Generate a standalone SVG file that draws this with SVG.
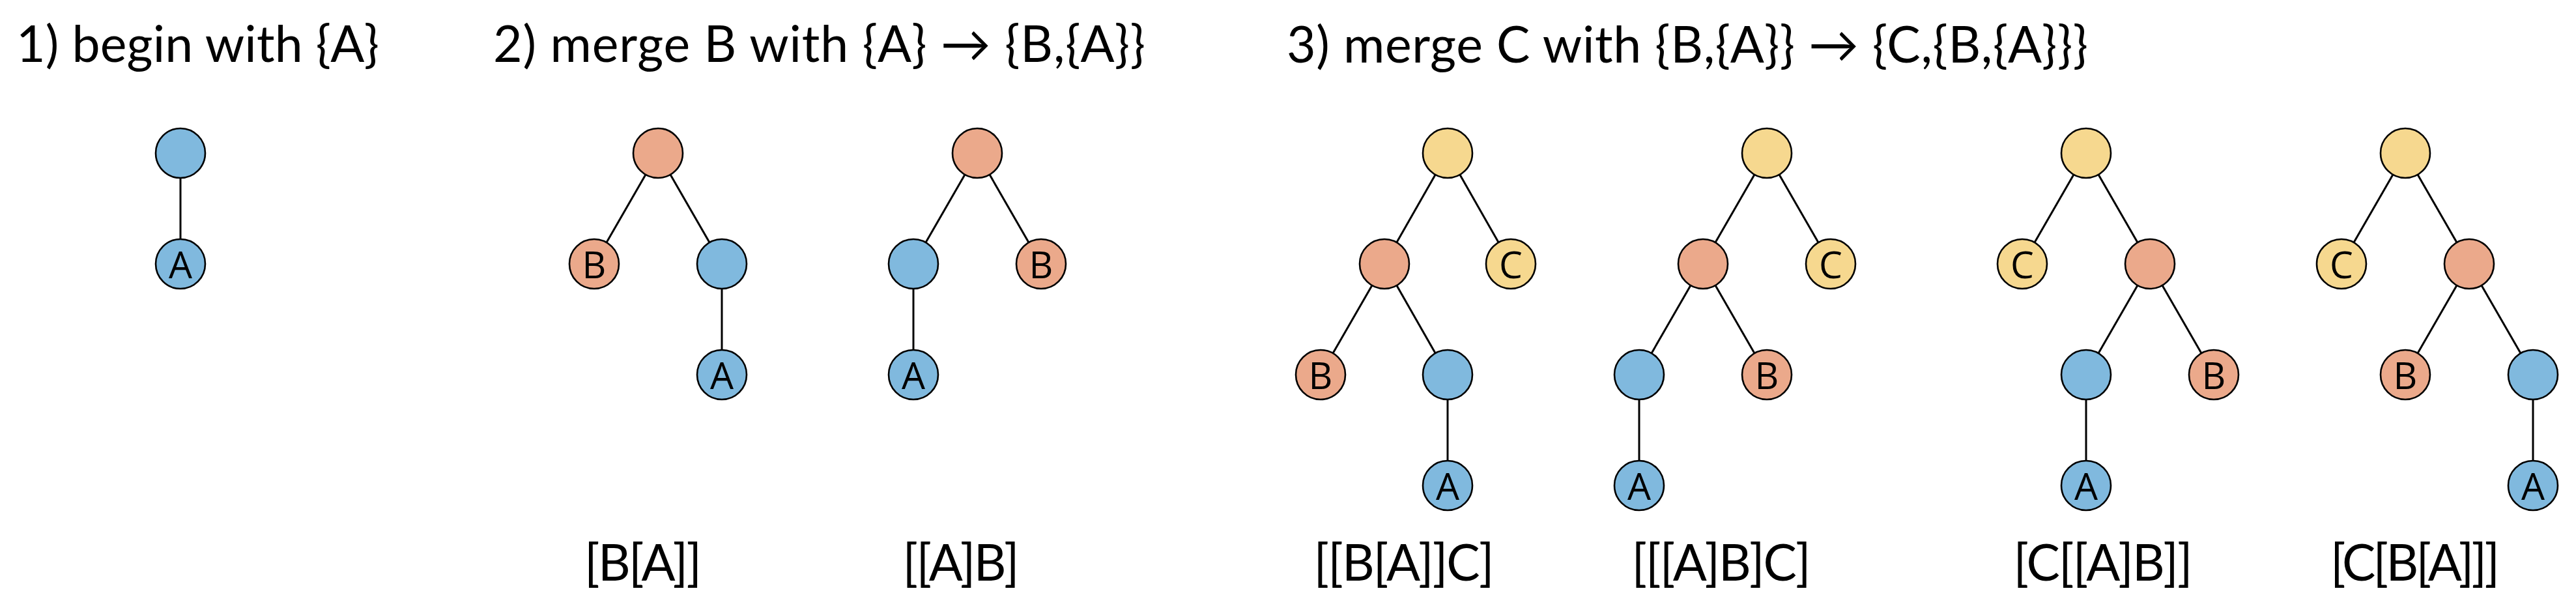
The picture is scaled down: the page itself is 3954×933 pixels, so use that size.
<svg xmlns="http://www.w3.org/2000/svg" width="3954" height="933" viewBox="0 0 3954 933">
<style>
.t{font-family:Lato,"Liberation Sans",sans-serif;font-size:77px;fill:#000}
.e line{stroke:#000;stroke-width:3}
circle{stroke:#000;stroke-width:2.6}
.b{fill:#80b9de}.s{fill:#eba98b}.y{fill:#f6d88f}
.n{font-family:"Open Sans","DejaVu Sans",sans-serif;font-size:57px;text-anchor:middle;fill:#000}
</style>
<rect width="3954" height="933" fill="#fff"/>
<g id="titles">
<text class="t" x="25" y="95" textLength="557">1) begin with {A}</text>
<text class="t" x="757" y="95" textLength="1001">2) merge B with {A} → {B,{A}}</text>
<text class="t" x="1975" y="96" textLength="1230">3) merge C with {B,{A}} → {C,{B,{A}}}</text>
</g>
<g id="connectors" class="e">
<line x1="277" y1="235" x2="277" y2="405"/>
<line x1="1010" y1="235" x2="912" y2="405"/>
<line x1="1010" y1="235" x2="1108" y2="405"/>
<line x1="1108" y1="405" x2="1108" y2="575"/>
<line x1="1500" y1="235" x2="1402" y2="405"/>
<line x1="1500" y1="235" x2="1598" y2="405"/>
<line x1="1402" y1="405" x2="1402" y2="575"/>
<line x1="2222" y1="235" x2="2125" y2="405"/>
<line x1="2222" y1="235" x2="2319" y2="405"/>
<line x1="2125" y1="405" x2="2027" y2="575"/>
<line x1="2125" y1="405" x2="2222" y2="575"/>
<line x1="2222" y1="575" x2="2222" y2="745"/>
<line x1="2712" y1="235" x2="2614" y2="405"/>
<line x1="2712" y1="235" x2="2810" y2="405"/>
<line x1="2614" y1="405" x2="2516" y2="575"/>
<line x1="2614" y1="405" x2="2712" y2="575"/>
<line x1="2516" y1="575" x2="2516" y2="745"/>
<line x1="3202" y1="235" x2="3104" y2="405"/>
<line x1="3202" y1="235" x2="3300" y2="405"/>
<line x1="3300" y1="405" x2="3202" y2="575"/>
<line x1="3300" y1="405" x2="3398" y2="575"/>
<line x1="3202" y1="575" x2="3202" y2="745"/>
<line x1="3692" y1="235" x2="3594" y2="405"/>
<line x1="3692" y1="235" x2="3790" y2="405"/>
<line x1="3790" y1="405" x2="3692" y2="575"/>
<line x1="3790" y1="405" x2="3888" y2="575"/>
<line x1="3888" y1="575" x2="3888" y2="745"/>
</g>
<g id="tree1">
<g id="t1-root"><circle class="b" cx="277" cy="235" r="38"/></g>
<g id="t1-A"><circle class="b" cx="277" cy="405" r="38"/><text class="n" x="277" y="427">A</text></g>
</g>
<g id="tree2a">
<g id="t2a-root"><circle class="s" cx="1010" cy="235" r="38"/></g>
<g id="t2a-B"><circle class="s" cx="912" cy="405" r="38"/><text class="n" x="912" y="427">B</text></g>
<g id="t2a-n"><circle class="b" cx="1108" cy="405" r="38"/></g>
<g id="t2a-A"><circle class="b" cx="1108" cy="575" r="38"/><text class="n" x="1108" y="597">A</text></g>
<text id="t2a-label" class="t" x="987" y="891" text-anchor="middle" textLength="180">[B[A]]</text>
</g>
<g id="tree2b">
<g id="t2b-root"><circle class="s" cx="1500" cy="235" r="38"/></g>
<g id="t2b-n"><circle class="b" cx="1402" cy="405" r="38"/></g>
<g id="t2b-B"><circle class="s" cx="1598" cy="405" r="38"/><text class="n" x="1598" y="427">B</text></g>
<g id="t2b-A"><circle class="b" cx="1402" cy="575" r="38"/><text class="n" x="1402" y="597">A</text></g>
<text id="t2b-label" class="t" x="1475" y="891" text-anchor="middle" textLength="179">[[A]B]</text>
</g>
<g id="tree3a">
<g id="t3a-root"><circle class="y" cx="2222" cy="235" r="38"/></g>
<g id="t3a-s"><circle class="s" cx="2125" cy="405" r="38"/></g>
<g id="t3a-C"><circle class="y" cx="2319" cy="405" r="38"/><text class="n" x="2319" y="427">C</text></g>
<g id="t3a-B"><circle class="s" cx="2027" cy="575" r="38"/><text class="n" x="2027" y="597">B</text></g>
<g id="t3a-n"><circle class="b" cx="2222" cy="575" r="38"/></g>
<g id="t3a-A"><circle class="b" cx="2222" cy="745" r="38"/><text class="n" x="2222" y="767">A</text></g>
<text id="t3a-label" class="t" x="2155" y="891" text-anchor="middle" textLength="277">[[B[A]]C]</text>
</g>
<g id="tree3b">
<g id="t3b-root"><circle class="y" cx="2712" cy="235" r="38"/></g>
<g id="t3b-s"><circle class="s" cx="2614" cy="405" r="38"/></g>
<g id="t3b-C"><circle class="y" cx="2810" cy="405" r="38"/><text class="n" x="2810" y="427">C</text></g>
<g id="t3b-n"><circle class="b" cx="2516" cy="575" r="38"/></g>
<g id="t3b-B"><circle class="s" cx="2712" cy="575" r="38"/><text class="n" x="2712" y="597">B</text></g>
<g id="t3b-A"><circle class="b" cx="2516" cy="745" r="38"/><text class="n" x="2516" y="767">A</text></g>
<text id="t3b-label" class="t" x="2642" y="891" text-anchor="middle" textLength="275">[[[A]B]C]</text>
</g>
<g id="tree3c">
<g id="t3c-root"><circle class="y" cx="3202" cy="235" r="38"/></g>
<g id="t3c-C"><circle class="y" cx="3104" cy="405" r="38"/><text class="n" x="3104" y="427">C</text></g>
<g id="t3c-s"><circle class="s" cx="3300" cy="405" r="38"/></g>
<g id="t3c-n"><circle class="b" cx="3202" cy="575" r="38"/></g>
<g id="t3c-B"><circle class="s" cx="3398" cy="575" r="38"/><text class="n" x="3398" y="597">B</text></g>
<g id="t3c-A"><circle class="b" cx="3202" cy="745" r="38"/><text class="n" x="3202" y="767">A</text></g>
<text id="t3c-label" class="t" x="3228" y="891" text-anchor="middle" textLength="275">[C[[A]B]]</text>
</g>
<g id="tree3d">
<g id="t3d-root"><circle class="y" cx="3692" cy="235" r="38"/></g>
<g id="t3d-C"><circle class="y" cx="3594" cy="405" r="38"/><text class="n" x="3594" y="427">C</text></g>
<g id="t3d-s"><circle class="s" cx="3790" cy="405" r="38"/></g>
<g id="t3d-B"><circle class="s" cx="3692" cy="575" r="38"/><text class="n" x="3692" y="597">B</text></g>
<g id="t3d-n"><circle class="b" cx="3888" cy="575" r="38"/></g>
<g id="t3d-A"><circle class="b" cx="3888" cy="745" r="38"/><text class="n" x="3888" y="767">A</text></g>
<text id="t3d-label" class="t" x="3707" y="891" text-anchor="middle" textLength="260">[C[B[A]]]</text>
</g>
</svg>
